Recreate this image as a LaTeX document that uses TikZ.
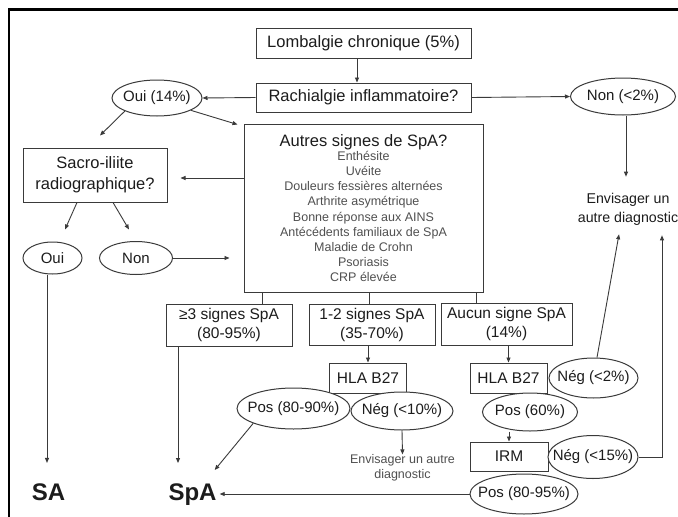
\documentclass[tikz,border=0pt]{standalone}
\usepackage{fontspec}
\setmainfont{Liberation Sans}
\usetikzlibrary{shapes.geometric, arrows.meta}
\definecolor{linec}{HTML}{3A3A3A}
\definecolor{txt}{HTML}{1C1C1C}
\definecolor{itemc}{HTML}{505050}
\newcommand{\zw}[1]{\makebox[0pt]{#1}}
\newcommand{\myBig}{\fontsize{16.5}{21}\selectfont}
\newcommand{\myMid}{\fontsize{15.5}{19}\selectfont}
\newcommand{\myOv}{\fontsize{15}{18}\selectfont}
\newcommand{\myItem}{\fontsize{12.5}{15.1}\selectfont}
\newcommand{\myEnv}{\fontsize{14.2}{19}\selectfont}
\newcommand{\myHuge}{\fontsize{24}{28}\selectfont\bfseries}
\begin{document}
\begin{tikzpicture}[x=1pt,y=-1pt,
  box/.style={draw=linec, line width=1pt, fill=white, inner sep=0pt, align=center, text=txt},
  oval/.style={ellipse, draw=linec, line width=1pt, fill=white, inner sep=0pt, text=txt, font=\myOv},
  txtn/.style={inner sep=0pt, align=center, text=txt},
  arr/.style={draw=linec, line width=0.9pt, -{Triangle[length=5pt,width=4pt]}},
  ln/.style={draw=linec, line width=0.9pt}]
\useasboundingbox (0,0) rectangle (678,517);
\fill[white] (0,0) rectangle (678,517);
\draw[line width=2.5pt, black] (9,517) -- (9,9.5) -- (678,9.5);

\node[box, minimum width=215pt, minimum height=30pt, font=\myBig] (lomb) at (363.5,43) {Lombalgie chronique (5\%)};
\node[box, minimum width=215pt, minimum height=29pt, font=\myBig] (rach) at (363.5,97.5) {Rachialgie inflammatoire?};
\node[oval, minimum width=90pt, minimum height=36pt] (oui14) at (157,98) {\zw{Oui (14\%)}};
\node[oval, minimum width=105pt, minimum height=37pt] (non2) at (623,96.5) {\zw{Non (<2\%)}};
\node[box, minimum width=239pt, minimum height=168pt, font=\myItem, text=itemc] (autres) at (363.5,208)
  {{\color{txt}\myBig Autres signes de SpA?}\\[-0.8pt]
   Enthésite\\Uvéite\\Douleurs fessières alternées\\Arthrite asymétrique\\Bonne réponse aux AINS\\Antécédents familiaux de SpA\\Maladie de Crohn\\Psoriasis\\CRP élevée};
\node[box, minimum width=144pt, minimum height=54pt, font=\myBig] (sacro) at (95,175) {Sacro-iliite\\radiographique?};
\node[txtn, font=\myEnv] (envis) at (628,209) {Envisager un\\autre diagnostic};
\node[oval, minimum width=59pt, minimum height=32pt] (oui) at (52.5,258) {\zw{Oui}};
\node[oval, minimum width=73pt, minimum height=33pt] (non) at (136,258) {\zw{Non}};
\node[box, minimum width=126pt, minimum height=42pt, font=\myMid] (ge3) at (229,325) {≥3 signes SpA\\(80-95\%)};
\node[box, minimum width=126pt, minimum height=41pt, font=\myMid] (one2) at (372,324.5) {1-2 signes SpA\\(35-70\%)};
\node[box, minimum width=131pt, minimum height=42pt, font=\myMid] (aucun) at (506.5,324) {Aucun signe SpA\\(14\%)};
\node[box, minimum width=77pt, minimum height=30pt, font=\myMid] (hla1) at (368,378) {HLA B27};
\node[box, minimum width=77pt, minimum height=30pt, font=\myMid] (hla2) at (508.5,378) {HLA B27};
\node[oval, minimum width=89pt, minimum height=40pt] (neg2) at (593.5,378) {\zw{Nég (<2\%)}};
\node[oval, minimum width=113pt, minimum height=41pt] (pos8090) at (293.5,408.5) {\zw{Pos (80-90\%)}};
\node[oval, minimum width=102pt, minimum height=38pt] (neg10) at (402,411) {\zw{Nég (<10\%)}};
\node[oval, minimum width=95pt, minimum height=38pt] (pos60) at (530,412) {\zw{Pos (60\%)}};
\node[box, minimum width=78pt, minimum height=29pt, font=\myMid] (irm) at (509,456.5) {IRM};
\node[oval, minimum width=90pt, minimum height=43pt] (neg15) at (593,457) {\zw{Nég (<15\%)}};
\node[oval, minimum width=108pt, minimum height=40pt] (pos8095) at (524,494) {\zw{Pos (80-95\%)}};
\node[txtn, font=\myItem, text=itemc] (envis2) at (402.5,468) {Envisager un autre\\diagnostic};
\node[txtn, font=\myHuge] (sa) at (48.5,492) {SA};
\node[txtn, font=\myHuge] (spa) at (192.5,494.5) {SpA};

\draw[arr] ([xshift=-6.5pt]lomb.south) -- ([xshift=-6.5pt]rach.north);
\draw[arr] (rach.west) -- (oui14.east);
\draw[arr] (rach.east) -- (non2.west);
\draw[arr] ([xshift=3pt]non2.south) -- ([xshift=-2pt,yshift=16pt]envis.north);
\draw[arr] (oui14.south west) -- ([xshift=5pt,yshift=12pt]sacro.north);
\draw[arr] (oui14.-20) -- ([xshift=-6pt,yshift=-1pt]autres.north west);
\draw[arr] ([yshift=30pt]autres.west) -- ([xshift=13pt,yshift=-3pt]sacro.east);
\draw[arr] ([xshift=-18pt]sacro.south) -- ([xshift=12.5pt,yshift=12pt]oui.north);
\draw[arr] ([xshift=18pt]sacro.south) -- ([xshift=-7pt,yshift=11.5pt]non.north);
\draw[arr, shorten >=14pt] (non.east) -- (non.east -| autres.west);
\draw[arr] ([xshift=-5.5pt]oui.south) -- ([xshift=-1.5pt,yshift=20.4pt]sa.north);
\draw[ln] ([xshift=33pt]ge3.north) -- ([xshift=-101.5pt]autres.south);
\draw[ln] ([xshift=-3pt]one2.north) -- ([xshift=5.5pt]autres.south);
\draw[ln] ([xshift=-30.5pt]aucun.north) -- ([xshift=112.5pt]autres.south);
\draw[arr] ([xshift=-51pt]ge3.south) -- ([xshift=-14.5pt,yshift=20.4pt]spa.north);
\draw[arr] (hla1.north |- one2.south) -- (hla1.north);
\draw[arr] (hla2.north |- aucun.south) -- (hla2.north);
\draw[arr] (pos8090.south west) -- ([xshift=-2pt,yshift=13.4pt]spa.north east);
\draw[arr] (neg10.south) -- (envis2.north);
\draw[arr] (irm.north |- pos60.south) -- (irm.north);
\draw[arr] ([xshift=3.5pt]neg2.north) -- ([xshift=-9pt,yshift=-9pt]envis.south);
\draw[arr] (neg15.east) -| ([xshift=34pt,yshift=-10pt]envis.south);
\draw[arr, shorten >=3pt] (pos8095.west) -- (pos8095.west -| spa.east);
\end{tikzpicture}
\end{document}
